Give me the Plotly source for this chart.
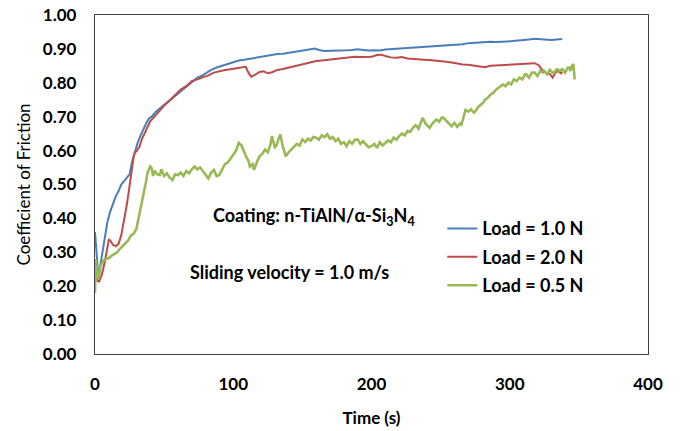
import plotly.graph_objects as go

# ---------------- data ----------------
t_blue = [0, 1, 2, 3, 5, 7, 9, 11, 13, 15, 17, 19, 21, 23, 25, 27, 29, 31, 33, 35, 37, 39, 41,
          44, 47, 50, 53, 56, 59, 62, 65, 68, 71, 74, 77, 80, 84, 88, 92, 96, 100, 104, 108,
          112, 116, 120, 124, 128, 132, 136, 140, 144, 148, 152, 156, 159, 162, 166, 170, 174,
          178, 182, 186, 190, 194, 198, 202, 206, 210, 214, 218, 222, 226, 230, 234, 238, 242,
          246, 250, 254, 258, 262, 266, 270, 274, 278, 282, 286, 290, 294, 298, 302, 306, 310,
          314, 318, 322, 326, 330, 334, 338]
cof_blue = [0.36, 0.30, 0.25, 0.24, 0.29, 0.34, 0.39, 0.42, 0.445, 0.465, 0.48, 0.50, 0.51, 0.52,
            0.53, 0.57, 0.60, 0.625, 0.645, 0.665, 0.68, 0.695, 0.70, 0.715, 0.725, 0.735, 0.745,
            0.755, 0.765, 0.775, 0.785, 0.795, 0.805, 0.815, 0.82, 0.828, 0.838, 0.845, 0.85,
            0.857, 0.862, 0.866, 0.868, 0.871, 0.874, 0.876, 0.879, 0.883, 0.885, 0.886, 0.889,
            0.891, 0.893, 0.896, 0.899, 0.901, 0.897, 0.894, 0.894, 0.895, 0.894, 0.896, 0.897,
            0.899, 0.897, 0.895, 0.896, 0.895, 0.898, 0.899, 0.900, 0.901, 0.902, 0.903, 0.904,
            0.905, 0.907, 0.908, 0.908, 0.909, 0.911, 0.912, 0.914, 0.917, 0.918, 0.920, 0.920,
            0.921, 0.920, 0.922, 0.922, 0.923, 0.924, 0.926, 0.928, 0.930, 0.929, 0.927, 0.926,
            0.928, 0.929]

t_red = [0, 1, 2, 3, 5, 7, 9, 10, 11, 13, 15, 17, 19, 21, 23, 25, 27, 28, 29, 30, 32, 34, 36, 38,
         40, 43, 46, 50, 54, 58, 62, 66, 70, 74, 78, 82, 86, 90, 94, 98, 102, 106, 109, 111, 113,
         116, 119, 122, 125, 128, 132, 136, 140, 144, 148, 152, 156, 160, 164, 168, 172, 176, 180,
         184, 188, 192, 196, 200, 204, 207, 210, 214, 218, 222, 226, 230, 234, 238, 242, 246, 250,
         254, 258, 262, 266, 270, 274, 278, 282, 286, 290, 294, 298, 302, 306, 310, 314, 318, 321,
         323, 326, 329, 331, 333, 335, 337, 338]
cof_red = [0.26, 0.23, 0.215, 0.214, 0.235, 0.27, 0.32, 0.337, 0.335, 0.322, 0.318, 0.325, 0.35,
           0.39, 0.44, 0.495, 0.55, 0.583, 0.595, 0.598, 0.61, 0.635, 0.652, 0.672, 0.687, 0.70,
           0.715, 0.733, 0.748, 0.765, 0.78, 0.79, 0.805, 0.81, 0.815, 0.822, 0.83, 0.835, 0.838,
           0.84, 0.843, 0.845, 0.847, 0.83, 0.818, 0.824, 0.832, 0.834, 0.828, 0.831, 0.838,
           0.841, 0.845, 0.849, 0.853, 0.856, 0.86, 0.864, 0.866, 0.868, 0.87, 0.872, 0.873,
           0.876, 0.877, 0.876, 0.876, 0.877, 0.882, 0.883, 0.879, 0.875, 0.874, 0.876, 0.872,
           0.870, 0.870, 0.868, 0.867, 0.866, 0.864, 0.862, 0.860, 0.856, 0.854, 0.853, 0.850,
           0.848, 0.846, 0.850, 0.851, 0.850, 0.852, 0.853, 0.853, 0.855, 0.857, 0.858, 0.852,
           0.84, 0.83, 0.826, 0.815, 0.83, 0.835, 0.828, 0.832]

t_green = [0, 0.5, 1.5, 2.5, 4, 6, 8, 10, 12, 14, 16, 18, 20, 22, 24, 26, 28, 30, 31, 32, 34, 35,
           37, 38, 40, 41, 42, 43, 45, 47, 48, 50, 52, 54, 56, 58, 60, 62, 64, 66, 68, 70, 72, 74,
           76, 78, 80, 82, 84, 86, 88, 90, 92, 94, 96, 98, 100, 102, 104, 106, 107, 109, 111, 112,
           114, 115, 117, 119, 121, 123, 125, 127, 128, 130, 131, 133, 134, 136, 138, 140, 142,
           144, 146, 148, 150, 152, 154, 156, 158, 160, 162, 164, 166, 168, 170, 172, 174, 176,
           178, 180, 182, 184, 186, 188, 190, 192, 194, 196, 198, 200, 202, 204, 206, 208, 210,
           212, 214, 216, 218, 220, 222, 224, 226, 228, 230, 232, 234, 236, 237, 239, 241, 242,
           244, 246, 247, 249, 251, 252, 254, 256, 258, 260, 262, 264, 265, 266, 267, 268, 270,
           272, 274, 275, 277, 279, 281, 282, 284, 286, 288, 290, 292, 294, 295, 297, 299, 301,
           303, 305, 307, 309, 311, 312, 314, 316, 318, 320, 322, 324, 325, 327, 329, 331, 332,
           334, 336, 338, 340, 342, 343, 344, 345, 346, 347]
cof_green = [0.18, 0.28, 0.24, 0.22, 0.26, 0.275, 0.28, 0.283, 0.29, 0.295, 0.30, 0.31, 0.318,
             0.325, 0.335, 0.35, 0.355, 0.37, 0.39, 0.405, 0.44, 0.465, 0.51, 0.535, 0.553, 0.548,
             0.525, 0.54, 0.53, 0.528, 0.545, 0.525, 0.533, 0.52, 0.513, 0.53, 0.528, 0.535,
             0.525, 0.54, 0.533, 0.545, 0.553, 0.545, 0.55, 0.54, 0.53, 0.518, 0.535, 0.543,
             0.525, 0.528, 0.545, 0.56, 0.565, 0.575, 0.588, 0.60, 0.623, 0.615, 0.603, 0.585,
             0.57, 0.553, 0.56, 0.543, 0.565, 0.583, 0.59, 0.603, 0.595, 0.62, 0.643, 0.61, 0.613,
             0.635, 0.648, 0.61, 0.583, 0.595, 0.603, 0.61, 0.62, 0.615, 0.633, 0.625, 0.635,
             0.63, 0.64, 0.638, 0.632, 0.645, 0.64, 0.648, 0.635, 0.64, 0.628, 0.635, 0.62, 0.625,
             0.613, 0.628, 0.62, 0.632, 0.633, 0.62, 0.628, 0.618, 0.61, 0.613, 0.62, 0.608,
             0.625, 0.615, 0.623, 0.63, 0.625, 0.638, 0.632, 0.643, 0.65, 0.645, 0.658, 0.655,
             0.667, 0.675, 0.665, 0.69, 0.697, 0.68, 0.67, 0.667, 0.68, 0.69, 0.692, 0.685, 0.698,
             0.697, 0.688, 0.68, 0.672, 0.682, 0.67, 0.68, 0.677, 0.69, 0.705, 0.72, 0.715, 0.722,
             0.712, 0.715, 0.728, 0.735, 0.742, 0.75, 0.755, 0.765, 0.77, 0.78, 0.785, 0.79, 0.795,
             0.79, 0.80, 0.795, 0.81, 0.805, 0.815, 0.81, 0.825, 0.825, 0.815, 0.83, 0.83, 0.82,
             0.835, 0.83, 0.835, 0.825, 0.838, 0.83, 0.83, 0.84, 0.835, 0.84, 0.83, 0.845, 0.845,
             0.835, 0.85, 0.855, 0.81]

series_names = ["Load = 1.0 N", "Load = 2.0 N", "Load = 0.5 N"]
series_colors = ["#4A7EBB", "#BE4B48", "#98B954"]

x_ticks = [0, 100, 200, 300, 400]
y_ticks = [0.0, 0.1, 0.2, 0.3, 0.4, 0.5, 0.6, 0.7, 0.8, 0.9, 1.0]

note_coating = "Coating: n-TiAlN/α-Si<sub>3</sub>N<sub>4</sub>"
note_velocity = "Sliding velocity = 1.0 m/s"

# ---------------- figure ----------------
FONT = "Lato"
fig = go.Figure()
for (tx, vy, name, col, w) in [
    (t_blue, cof_blue, series_names[0], series_colors[0], 2.0),
    (t_red, cof_red, series_names[1], series_colors[1], 2.0),
    (t_green, cof_green, series_names[2], series_colors[2], 2.6),
]:
    fig.add_trace(go.Scatter(x=tx, y=vy, mode="lines", name=name, legendgroup=name,
                             line=dict(color=col, width=w)))

axis_line = dict(showline=True, linecolor="#404040", linewidth=1.3, mirror=True,
                 showgrid=False, zeroline=False, automargin=False)

fig.update_layout(
    width=681, height=431,
    margin=dict(l=95, r=33, t=15, b=77),
    paper_bgcolor="white", plot_bgcolor="white",
    font=dict(family=FONT, color="#000000"),
    showlegend=True,
    legend=dict(x=0.628, y=0.424, xanchor="left", yanchor="top",
                bgcolor="rgba(0,0,0,0)", traceorder="grouped", tracegroupgap=2,
                itemwidth=30,
                font=dict(family=FONT, size=18, color="#000000", weight="bold")),
    xaxis=dict(range=[0, 400], tickvals=x_ticks, ticks="", ticklabelstandoff=14,
               tickfont=dict(family=FONT, size=17, weight="bold"),
               title=dict(text="Time (s)", standoff=19,
                          font=dict(family=FONT, size=17, weight="bold")),
               **axis_line),
    yaxis=dict(range=[0, 1], tickvals=y_ticks, tickformat=".2f", ticks="",
               ticklabelstandoff=14,
               tickfont=dict(family=FONT, size=17, weight="bold"),
               title=dict(text="Coefficient of Friction", standoff=7,
                          font=dict(family=FONT, size=17)),
               **axis_line),
)

fig.add_annotation(x=84, y=0.407, xref="x", yref="y", text=note_coating, showarrow=False,
                   xanchor="left", yanchor="middle",
                   font=dict(family=FONT, size=18, weight="bold", color="#000000"))
fig.add_annotation(x=67.3, y=0.242, xref="x", yref="y", text=note_velocity, showarrow=False,
                   xanchor="left", yanchor="middle",
                   font=dict(family=FONT, size=18, weight="bold", color="#000000"))

# remove the default 8 px page margin so the figure sits at the window's top-left corner
fig.write_html("out.html", config={"displayModeBar": False},
               post_script="document.body.style.margin='0';")
